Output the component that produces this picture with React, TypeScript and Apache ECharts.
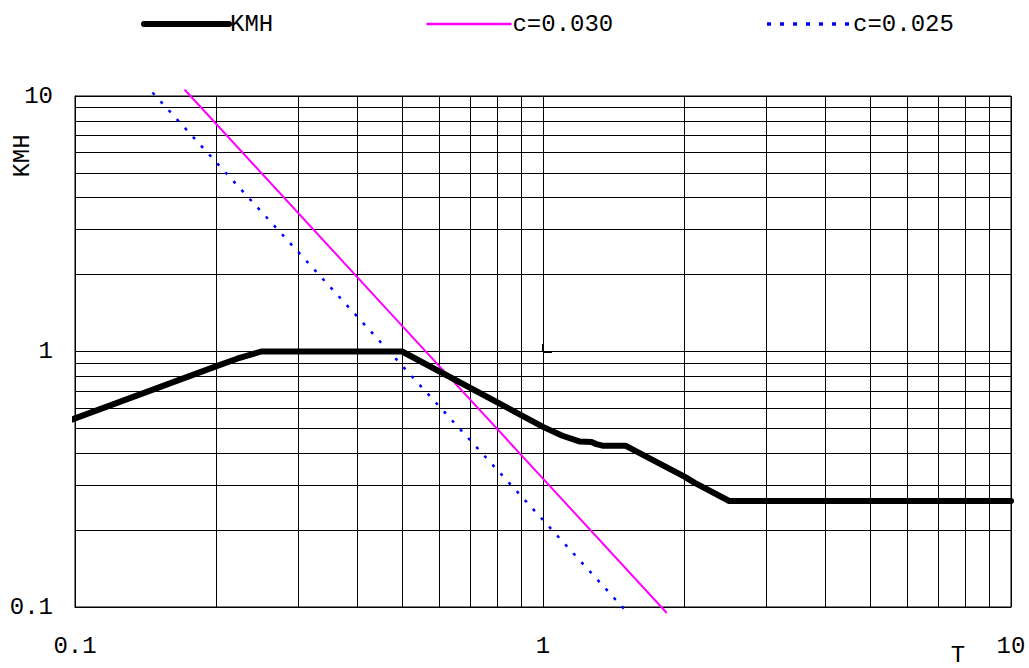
import React, { useEffect, useRef } from "react";
import * as echarts from "echarts";

// KMH curve (T, K)
const kmhT = [0.097, 0.2, 0.222, 0.25, 0.5, 1.0, 1.1, 1.2, 1.27, 1.3, 1.34, 1.5, 2.01, 2.11, 2.5, 10];
const kmhK = [0.536, 0.875, 0.937, 1.0, 1.0, 0.507, 0.468, 0.444, 0.442, 0.434, 0.428, 0.428, 0.323, 0.306, 0.26, 0.26];

// c = 0.030 line
const c030T = [0.1714, 0.5, 1.0, 1.839];
const c030K = [10.6, 1.26, 0.318, 0.0947];

// c = 0.025 line
const c025T = [0.1464, 0.5, 1.0, 1.518];
const c025K = [10.32, 0.88, 0.219, 0.0947];

// minor grid values
const minorX = [0.2, 0.3, 0.4, 0.5, 0.6, 0.7, 0.8, 0.9, 2, 3, 4, 5, 6, 7, 8, 9];
const minorY = [0.2, 0.3, 0.4, 0.5, 0.6, 0.7, 0.8, 0.9, 2, 3, 4, 5, 6, 7, 8, 9];

const seriesNames = ["KMH", "c=0.030", "c=0.025"];
const FONT = "Liberation Mono";
const FS = 24;

const zip = (a: number[], b: number[]) => a.map((v, i) => [v, b[i]]);

export default function App() {
  const ref = useRef<HTMLDivElement>(null);
  useEffect(() => {
    if (!ref.current) return;
    const chart = echarts.init(ref.current, undefined, { renderer: "svg" });
    const gridLine = { color: "#000", width: 1, type: "solid" as const };
    chart.setOption({
      animation: false,
      textStyle: { fontFamily: FONT, color: "#000" },
      legend: {
        data: [
          { name: seriesNames[0], lineStyle: { width: 6, color: "#000", cap: "round" } },
          { name: seriesNames[1], lineStyle: { width: 2.5, color: "#ff00ff" } },
          { name: seriesNames[2], lineStyle: { width: 3.5, color: "#0000ff", type: [4, 9] } },
        ],
        left: 136,
        top: 7,
        itemWidth: 85,
        itemHeight: 14,
        itemGap: 152,
        itemStyle: { opacity: 0 },
        textStyle: { fontFamily: FONT, fontSize: FS, color: "#000", padding: [0, 0, 0, -4] },
        selectedMode: false,
      },
      grid: {
        left: 75,
        right: 18,
        top: 96,
        bottom: 61,
        show: true,
        borderColor: "#000",
        borderWidth: 1,
        backgroundColor: "#fff",
      },
      xAxis: {
        type: "log",
        logBase: 10,
        min: 0.1,
        max: 10,
        axisLine: { show: true, lineStyle: { color: "#000" } },
        axisTick: { show: false },
        splitLine: { show: true, lineStyle: gridLine },
        axisLabel: {
          fontFamily: FONT,
          fontSize: FS,
          color: "#000",
          margin: 27,
          showMinLabel: true,
          showMaxLabel: true,
          formatter: (v: number) => String(v),
        },
      },
      yAxis: {
        type: "log",
        logBase: 10,
        min: 0.1,
        max: 10,
        axisLine: { show: true, lineStyle: { color: "#000" } },
        axisTick: { show: false },
        splitLine: { show: true, lineStyle: gridLine },
        axisLabel: {
          fontFamily: FONT,
          fontSize: FS,
          color: "#000",
          margin: 22,
          showMinLabel: true,
          showMaxLabel: true,
          formatter: (v: number) => String(v),
        },
      },
      graphic: [
        {
          type: "text",
          x: 22,
          y: 156,
          rotation: Math.PI / 2,
          style: {
            text: "KMH",
            fontFamily: FONT,
            fontSize: FS,
            fill: "#000",
            align: "center",
            verticalAlign: "middle",
          },
        },
        {
          type: "text",
          x: 958,
          y: 655,
          style: {
            text: "T",
            fontFamily: FONT,
            fontSize: FS,
            fill: "#000",
            align: "center",
            verticalAlign: "middle",
          },
        },
      ],
      series: [
        {
          name: "grid",
          type: "line",
          data: [[1, 1]],
          showSymbol: false,
          symbol: "none",
          silent: true,
          z: 0,
          lineStyle: { opacity: 0 },
          markLine: {
            silent: true,
            z: 1,
            symbol: ["none", "none"],
            label: { show: false },
            emphasis: { disabled: true },
            lineStyle: gridLine,
            data: [
              ...minorX.map((v) => ({ xAxis: v })),
              ...minorY.map((v) => ({ yAxis: v })),
              [
                { coord: [1, 1], lineStyle: { width: 2, color: "#000", type: "solid" } },
                { coord: [1.045, 1] },
              ],
              [
                { coord: [1, 1], lineStyle: { width: 2, color: "#000", type: "solid" } },
                { coord: [1, 1.07] },
              ],
            ],
          },
        },
        {
          name: "KMH",
          type: "line",
          data: zip(kmhT, kmhK),
          symbol: "none",
          clip: false,
          z: 5,
          lineStyle: { color: "#000", width: 6, cap: "round", join: "round" },
          itemStyle: { color: "#000" },
        },
        {
          name: "c=0.030",
          type: "line",
          data: zip(c030T, c030K),
          symbol: "none",
          clip: false,
          z: 4,
          lineStyle: { color: "#ff00ff", width: 2 },
          itemStyle: { color: "#ff00ff" },
        },
        {
          name: "c=0.025",
          type: "line",
          data: zip(c025T, c025K),
          symbol: "none",
          clip: false,
          z: 3,
          lineStyle: { color: "#0000ff", width: 2.5, type: [3, 9] },
          itemStyle: { color: "#0000ff" },
        },
      ],
    });
    return () => chart.dispose();
  }, []);
  return (
    <div
      ref={ref}
      style={{ position: "absolute", left: 0, top: 0, width: 1029, height: 668 }}
    />
  );
}
